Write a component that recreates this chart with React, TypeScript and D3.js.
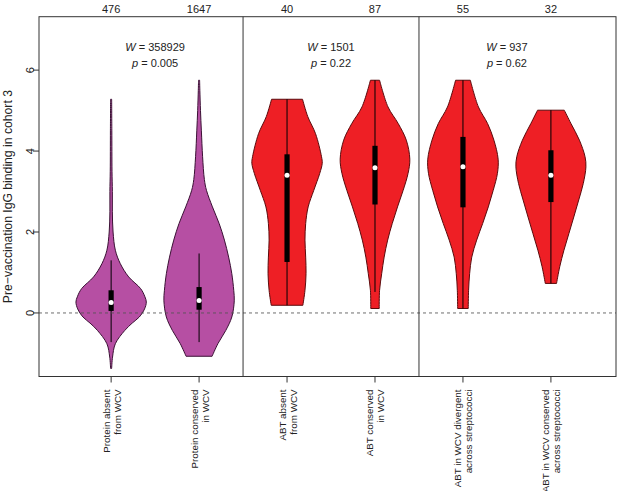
import React from "react";
import * as d3 from "d3";

// ---- data ----
const categories = [
  ["Protein absent", "from WCV"],
  ["Protein conserved", "in WCV"],
  ["ABT absent", "from WCV"],
  ["ABT conserved", "in WCV"],
  ["ABT in WCV divergent", "across streptococci"],
  ["ABT in WCV conserved", "across streptococci"],
];
const counts = ["476", "1647", "40", "87", "55", "32"];
const testW = ["358929", "1501", "937"];
const testP = ["0.005", "0.22", "0.62"];
const yTicks = [0, 2, 4, 6];

// violin density profiles: [value, relative density]
const dens1 = [[5.28,0.015],[4.5,0.02],[3.5,0.025],[3.0,0.035],[2.5,0.035],[2.0,0.055],[1.55,0.12],[1.22,0.26],[0.89,0.5],[0.6,0.84],[0.4,0.96],[0.27,1.0],[0.1,0.95],[-0.1,0.8],[-0.25,0.6],[-0.43,0.39],[-0.76,0.12],[-1.09,0.04],[-1.37,0.015]];
const dens2 = [[5.75,0.015],[5.5,0.022],[5.0,0.04],[4.5,0.065],[3.86,0.1],[3.3,0.15],[3.03,0.21],[2.62,0.38],[2.21,0.57],[1.80,0.72],[1.38,0.84],[0.97,0.93],[0.56,0.985],[0.3,1.0],[-0.1,0.93],[-0.43,0.76],[-0.75,0.54],[-1.07,0.37]];
const dens3 = [[5.28,0.44],[4.85,0.59],[4.43,0.81],[3.86,0.98],[3.7,1.0],[3.45,0.93],[3.03,0.76],[2.62,0.6],[2.21,0.53],[1.80,0.51],[1.38,0.53],[0.97,0.54],[0.56,0.51],[0.19,0.45]];
const dens4 = [[5.75,0.13],[5.09,0.37],[4.68,0.66],[4.27,0.89],[3.8,0.99],[3.45,0.94],[3.03,0.8],[2.62,0.64],[2.21,0.49],[1.80,0.36],[1.38,0.26],[0.97,0.19],[0.56,0.13],[0.11,0.12]];
const dens5 = [[5.75,0.21],[5.09,0.44],[4.68,0.7],[4.27,0.88],[3.8,1.0],[3.45,0.98],[3.03,0.86],[2.62,0.72],[2.21,0.56],[1.80,0.39],[1.38,0.25],[0.97,0.19],[0.56,0.16],[0.11,0.15]];
const dens6 = [[5.01,0.38],[4.68,0.57],[4.27,0.81],[3.86,0.97],[3.61,0.995],[3.20,0.92],[2.79,0.79],[2.37,0.65],[1.96,0.51],[1.55,0.37],[1.14,0.25],[0.73,0.16]];
const densities = [dens1, dens2, dens3, dens4, dens5, dens6];

// box stats: [lower whisker, q1, median, q3, upper whisker]
const boxStats = [
  [-0.72, 0.05, 0.26, 0.56, 1.30],
  [-0.72, 0.08, 0.31, 0.64, 1.47],
  [0.19, 1.26, 3.40, 3.92, 5.28],
  [0.52, 2.68, 3.59, 4.13, 5.75],
  [0.11, 2.61, 3.61, 4.35, 5.75],
  [0.73, 2.74, 3.40, 4.02, 5.01],
];
const fills = ["#B64FA3", "#B64FA3", "#EE1F25", "#EE1F25", "#EE1F25", "#EE1F25"];
const strokes = ["#3A1034", "#3A1034", "#5A0A0C", "#5A0A0C", "#5A0A0C", "#5A0A0C"];

const W = 617, H = 491;
const L = 39, R = 616, T = 16.7, B = 376.5;
const FONT = "'Liberation Sans', Arial, Helvetica, sans-serif";

export default function App() {
  const x = d3.scaleLinear().domain([0.18, 6.74]).range([L, R]);
  const y = d3.scaleLinear().domain([-1.57, 7.32]).range([B, T]);
  const halfW = 0.4; // max violin half width in category units
  const wpx = (d: number) => x(1 + d * halfW) - x(1);

  return (
    <svg width={W} height={H} style={{ position: "absolute", left: 0, top: 0, background: "#fff" }} fontFamily={FONT}>
      {/* violins */}
      {densities.map((dens, i) => {
        const cx = x(i + 1);
        const area = d3
          .area<number[]>()
          .y((d) => y(d[0]))
          .x0((d) => cx - wpx(d[1]))
          .x1((d) => cx + wpx(d[1]))
          .curve(d3.curveCatmullRom.alpha(0.5));
        const s = boxStats[i];
        const bw = 2.6;
        return (
          <g key={i}>
            <path d={area(dens as number[][]) || ""} fill={fills[i]} stroke={strokes[i]} strokeWidth={1} />
            <line x1={cx} x2={cx} y1={y(s[0])} y2={y(s[4])} stroke="#000" strokeWidth={1} />
            <rect x={cx - bw} width={bw * 2} y={y(s[3])} height={y(s[1]) - y(s[3])} fill="#000" />
            <circle cx={cx} cy={y(s[2])} r={2.5} fill="#fff" />
          </g>
        );
      })}
      {/* zero line */}
      <line x1={L} x2={R} y1={y(0)} y2={y(0)} stroke="#555" strokeOpacity={0.85} strokeWidth={1} strokeDasharray="3,3" />
      {/* box and dividers */}
      <rect x={L} y={T} width={R - L} height={B - T} fill="none" stroke="#333" strokeWidth={1} />
      {[2.5, 4.5].map((p) => (
        <line key={p} x1={x(p)} x2={x(p)} y1={T} y2={B} stroke="#333" strokeWidth={1} />
      ))}
      {/* y axis */}
      {yTicks.map((t) => (
        <g key={t}>
          <line x1={L - 6} x2={L} y1={y(t)} y2={y(t)} stroke="#333" />
          <text
            transform={`translate(${L - 5},${y(t)}) rotate(-90)`}
            textAnchor="middle"
            fontSize={11}
            fill="#222"
          >
            {t}
          </text>
        </g>
      ))}
      <text transform={`translate(12,${(T + B) / 2}) rotate(-90)`} textAnchor="middle" fontSize={12.2} fill="#222">
        Pre−vaccination IgG binding in cohort 3
      </text>
      {/* bottom axis */}
      {categories.map((c, i) => {
        const cx = x(i + 1);
        return (
          <g key={i}>
            <line x1={cx} x2={cx} y1={B} y2={B + 6} stroke="#333" />
            <text transform={`translate(${cx - 1.5},${B + 13}) rotate(-90)`} textAnchor="end" fontSize={9.8} fill="#222">
              {c[0]}
            </text>
            <text transform={`translate(${cx + 9.5},${B + 13}) rotate(-90)`} textAnchor="end" fontSize={9.8} fill="#222">
              {c[1]}
            </text>
          </g>
        );
      })}
      {/* top counts */}
      {counts.map((n, i) => (
        <text key={i} x={x(i + 1)} y={13} textAnchor="middle" fontSize={11} fill="#222">
          {n}
        </text>
      ))}
      {/* test statistics */}
      {testW.map((w, g) => {
        const cx = x(g * 2 + 1.5);
        return (
          <g key={g} fontSize={11} fill="#222">
            <text x={cx} y={51} textAnchor="middle">
              <tspan fontStyle="italic">W</tspan> = {w}
            </text>
            <text x={cx} y={67} textAnchor="middle">
              <tspan fontStyle="italic">p</tspan> = {testP[g]}
            </text>
          </g>
        );
      })}
    </svg>
  );
}
